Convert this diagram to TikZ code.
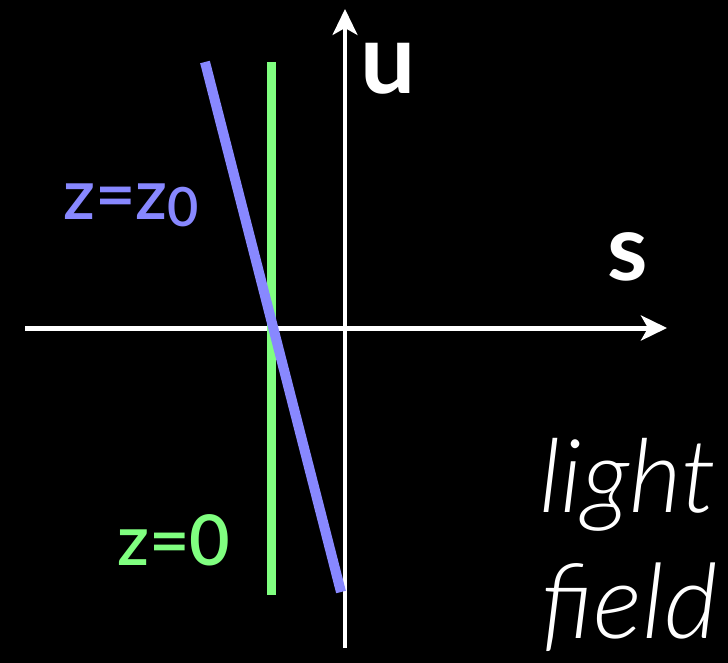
\documentclass[tikz,border=0pt]{standalone}
\usepackage{fontspec}
\setmainfont{Lato}
\newfontfamily\lightit{Lato-LightItalic.ttf}
\newfontfamily\semib{Lato-Semibold.ttf}
\usetikzlibrary{arrows.meta}
\definecolor{lineblue}{RGB}{136,136,255}
\definecolor{linegreen}{RGB}{128,255,128}
\tikzset{
  axis/.style={draw=white, -{Stealth[length=13pt,width=12.5pt,inset=3.5pt]}},
  lbl/.style={inner sep=0pt, anchor=base},
}
\begin{document}
\begin{tikzpicture}[x=0.5pt,y=-0.5pt]
\fill[black] (0,0) rectangle (728,663);
\useasboundingbox (0,0) rectangle (728,663);
% coordinates
\coordinate (hl) at (25,328);
\coordinate (hr) at (667,328);
\coordinate (vb) at (345,648);
\coordinate (vt) at (345,9);
\coordinate (gt) at (271.5,62);
\coordinate (gb) at (271.5,595);
\coordinate (bt) at (205,62);
\coordinate (bb) at (341,592);
% axes
\draw[axis, line width=2.5pt] (hl) -- (hr);
\draw[axis, line width=1.75pt] (vb) -- (vt);
% lines
\draw[linegreen, line width=4.5pt] (gt) -- (gb);
\draw[lineblue, line width=5pt] (bt) -- (bb);
% labels
\node[lbl, white, font=\fontsize{49}{49}\selectfont\bfseries] (u) at (388,94) {u};
\node[lbl, white, font=\fontsize{46}{46}\selectfont\bfseries] (s) at (628,280) {s};
\node[lbl, lineblue, font=\fontsize{35}{35}\selectfont\semib] (zz) at (131,220) {z=z\raisebox{-3.5pt}{\fontsize{27}{27}\selectfont\mdseries 0}};
\node[lbl, linegreen, font=\fontsize{35}{35}\selectfont\semib] (z0) at (174,565) {z=0};
\node[lbl, white, font=\fontsize{51}{51}\selectfont\lightit] (l1) at (628,512) {light};
\node[lbl, white, font=\fontsize{52}{52}\selectfont\lightit] (l2) at (630,638) {field};
\end{tikzpicture}
\end{document}
